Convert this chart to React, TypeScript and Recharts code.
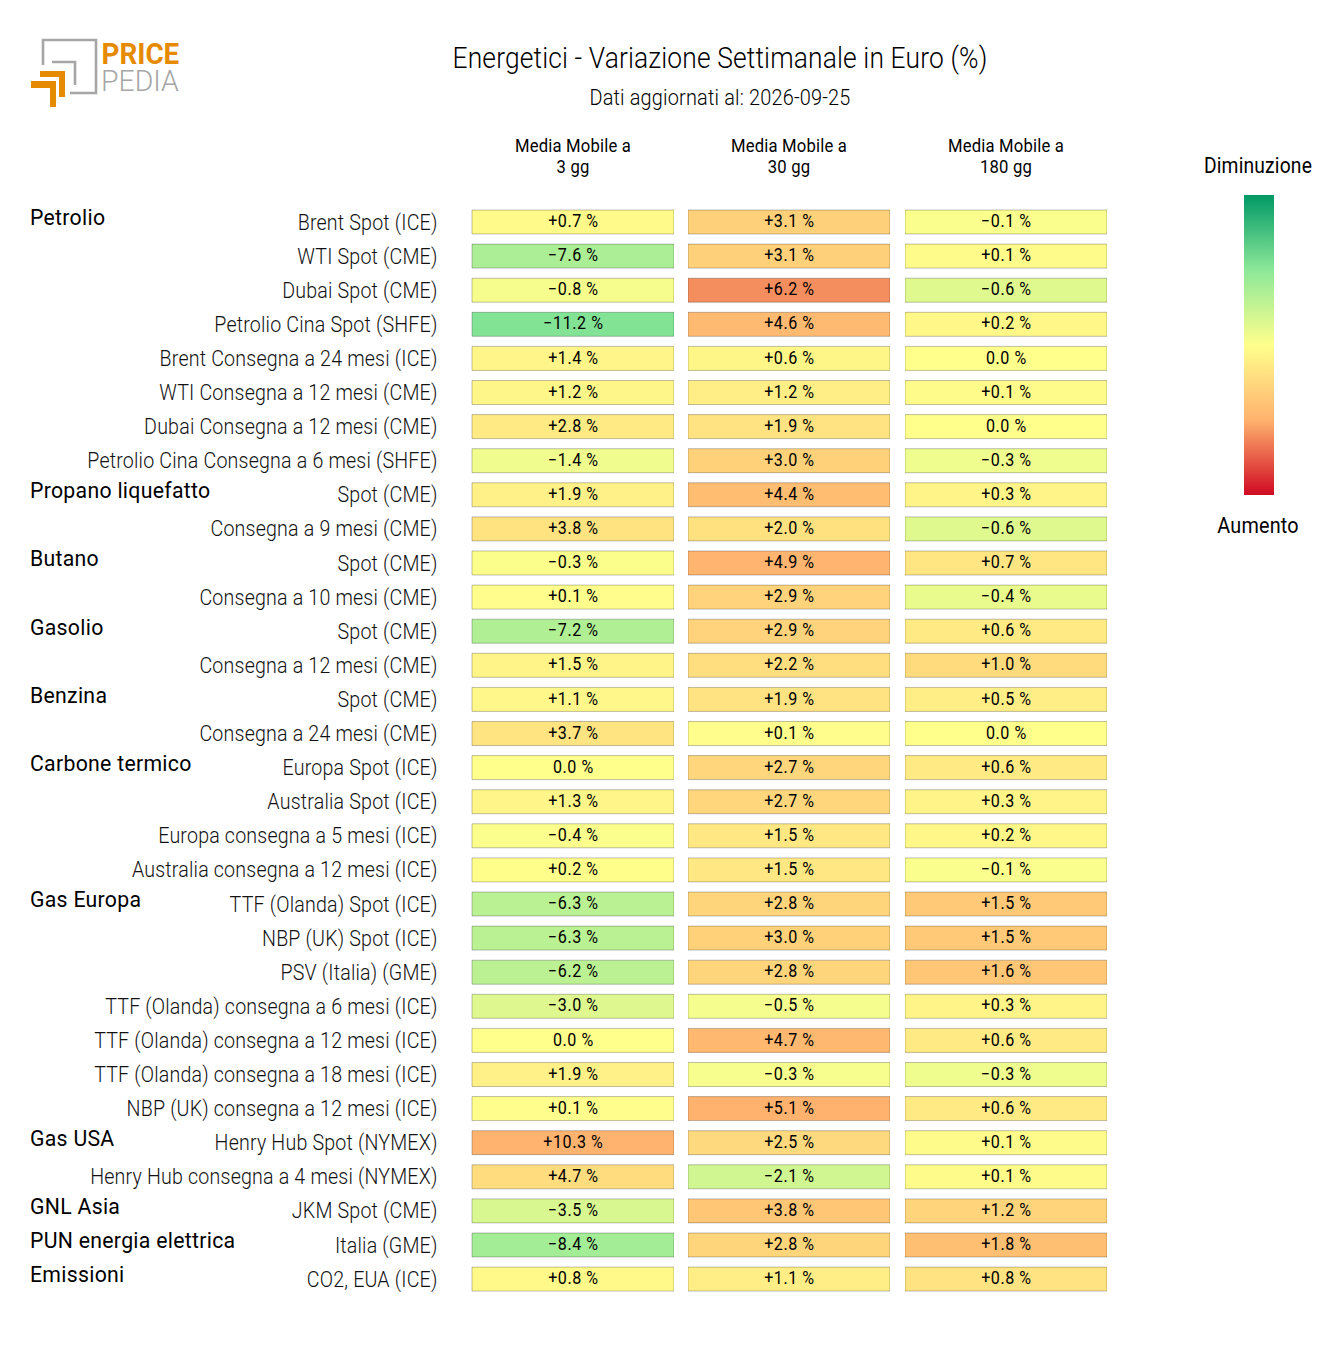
import React from 'react';
import { BarChart, Bar, Cell, XAxis, YAxis, LabelList } from 'recharts';

const instruments = [
  'Brent Spot (ICE)', 'WTI Spot (CME)', 'Dubai Spot (CME)', 'Petrolio Cina Spot (SHFE)',
  'Brent Consegna a 24 mesi (ICE)', 'WTI Consegna a 12 mesi (CME)', 'Dubai Consegna a 12 mesi (CME)',
  'Petrolio Cina Consegna a 6 mesi (SHFE)',
  'Spot (CME)', 'Consegna a 9 mesi (CME)',
  'Spot (CME)', 'Consegna a 10 mesi (CME)',
  'Spot (CME)', 'Consegna a 12 mesi (CME)',
  'Spot (CME)', 'Consegna a 24 mesi (CME)',
  'Europa Spot (ICE)', 'Australia Spot (ICE)', 'Europa consegna a 5 mesi (ICE)', 'Australia consegna a 12 mesi (ICE)',
  'TTF (Olanda) Spot (ICE)', 'NBP (UK) Spot (ICE)', 'PSV (Italia) (GME)', 'TTF (Olanda) consegna a 6 mesi (ICE)',
  'TTF (Olanda) consegna a 12 mesi (ICE)', 'TTF (Olanda) consegna a 18 mesi (ICE)', 'NBP (UK) consegna a 12 mesi (ICE)',
  'Henry Hub Spot (NYMEX)', 'Henry Hub consegna a 4 mesi (NYMEX)',
  'JKM Spot (CME)', 'Italia (GME)', 'CO2, EUA (ICE)',
];

const groups: Record<number, string> = {
  0: 'Petrolio', 8: 'Propano liquefatto', 10: 'Butano', 12: 'Gasolio', 14: 'Benzina',
  16: 'Carbone termico', 20: 'Gas Europa', 27: 'Gas USA', 29: 'GNL Asia',
  30: 'PUN energia elettrica', 31: 'Emissioni',
};

const media3 = [0.7, -7.6, -0.8, -11.2, 1.4, 1.2, 2.8, -1.4, 1.9, 3.8, -0.3, 0.1, -7.2, 1.5, 1.1, 3.7, 0.0, 1.3, -0.4, 0.2, -6.3, -6.3, -6.2, -3.0, 0.0, 1.9, 0.1, 10.3, 4.7, -3.5, -8.4, 0.8];
const media30 = [3.1, 3.1, 6.2, 4.6, 0.6, 1.2, 1.9, 3.0, 4.4, 2.0, 4.9, 2.9, 2.9, 2.2, 1.9, 0.1, 2.7, 2.7, 1.5, 1.5, 2.8, 3.0, 2.8, -0.5, 4.7, -0.3, 5.1, 2.5, -2.1, 3.8, 2.8, 1.1];
const media180 = [-0.1, 0.1, -0.6, 0.2, 0.0, 0.1, 0.0, -0.3, 0.3, -0.6, 0.7, -0.4, 0.6, 1.0, 0.5, 0.0, 0.6, 0.3, 0.2, -0.1, 1.5, 1.5, 1.6, 0.3, 0.6, -0.3, 0.6, 0.1, 0.1, 1.2, 1.8, 0.8];

const headers = [['Media Mobile a', '3 gg'], ['Media Mobile a', '30 gg'], ['Media Mobile a', '180 gg']];
const columnValues = [media3, media30, media180];
const columnScale = [21, 10.2, 4.3];
const columnLeft = [472, 688, 904.6];

const colorStops: [number, number[]][] = [
  [0, [0, 153, 102]],
  [0.25, [140, 232, 152]],
  [0.5, [255, 255, 140]],
  [0.75, [255, 178, 110]],
  [1, [208, 10, 34]],
];

const FONT = 'Roboto, sans-serif';
const CELL_W = 202;
const ROW_H = 34.1;
const PLOT_TOP = 204.5;
const LABEL_AXIS_W = 472;

const colorFor = (value: number, scale: number) => {
  const t = Math.max(0, Math.min(1, 0.5 + value / scale / 2));
  for (let i = 1; i < colorStops.length; i++) {
    const [t0, c0] = colorStops[i - 1];
    const [t1, c1] = colorStops[i];
    if (t <= t1) {
      const f = (t - t0) / (t1 - t0);
      return `rgb(${c0.map((c, k) => Math.round(c + (c1[k] - c) * f)).join(',')})`;
    }
  }
  return 'rgb(208,10,34)';
};

const formatValue = (v: number) => {
  if (v === 0) return '0.0 %';
  return `${v > 0 ? '+' : '\u2212'}${Math.abs(v).toFixed(1)} %`;
};

// the reference type is narrower than plain Roboto, so squeeze it horizontally
const RowTick = ({ y, payload, index }: any) => {
  const i = payload?.index ?? index;
  return (
    <g>
      {groups[i] && (
        <text transform={`translate(30 ${y - 4.6}) scale(0.945 1)`} dy="0.35em" textAnchor="start" fontFamily={FONT} fontSize={22.5} letterSpacing={0.3} fill="#000">
          {groups[i]}
        </text>
      )}
      <text transform={`translate(437.5 ${y}) scale(0.913 1)`} dy="0.35em" textAnchor="end" fontFamily={FONT} fontWeight={300} fontSize={21.5} letterSpacing={0.2} fill="#111">
        {payload.value}
      </text>
    </g>
  );
};

const CellLabel = ({ x, y, width, height, value }: any) => (
  <text
    transform={`translate(${x + width / 2 + 0.4} ${y + height / 2 - 1}) scale(0.92 1)`}
    dy="0.35em"
    textAnchor="middle"
    fontFamily={FONT}
    fontSize={17.5}
    letterSpacing={0.6}
    fill="#000"
  >
    {value}
  </text>
);

const HeatColumn = ({ col }: { col: number }) => {
  const rows = instruments.map((name, i) => ({ name, value: columnValues[col][i], cell: 1, label: formatValue(columnValues[col][i]) }));
  const withLabels = col === 0;
  return (
    <div style={{ position: 'absolute', left: withLabels ? 0 : columnLeft[col], top: PLOT_TOP }}>
      <BarChart
        width={withLabels ? LABEL_AXIS_W + CELL_W : CELL_W}
        height={ROW_H * instruments.length}
        data={rows}
        layout="vertical"
        margin={{ top: 0, right: 0, bottom: 0, left: 0 }}
        barSize={24}
      >
        <XAxis type="number" domain={[0, 1]} hide />
        <YAxis
          type="category"
          dataKey="name"
          width={withLabels ? LABEL_AXIS_W : 0}
          hide={!withLabels}
          axisLine={false}
          tickLine={false}
          interval={0}
          tick={<RowTick />}
        />
        <Bar dataKey="cell" isAnimationActive={false} stroke="#000" strokeOpacity={0.25} strokeWidth={1}>
          {rows.map((r, i) => (
            <Cell key={i} fill={colorFor(r.value, columnScale[col])} />
          ))}
          <LabelList dataKey="label" content={<CellLabel />} />
        </Bar>
      </BarChart>
    </div>
  );
};

const Logo = () => (
  <svg width={200} height={100} style={{ position: 'absolute', left: 0, top: 20 }} viewBox="0 20 200 100">
    <path d="M43 65V40H96V93H70" fill="none" stroke="#a6a6a6" strokeWidth={2.6} />
    <path d="M52 62H75V85" fill="none" stroke="#a6a6a6" strokeWidth={2.6} />
    <path d="M40 71H65V97H59V77H40Z" fill="#e68a00" />
    <path d="M31 81H56V107H50V88H31Z" fill="#e68a00" />
    <text transform="translate(101.5 64) scale(0.96 1)" fontFamily={FONT} fontWeight={700} fontSize={29} fill="#e68a00">PRICE</text>
    <text transform="translate(101 90.5) scale(0.98 1)" fontFamily={FONT} fontWeight={300} fontSize={29} fill="#a6a6a6">PEDIA</text>
  </svg>
);

const ColorLegend = () => (
  <svg width={30} height={300} style={{ position: 'absolute', left: 1244, top: 195 }}>
    <defs>
      <linearGradient id="scale" x1="0" y1="0" x2="0" y2="1">
        {colorStops.map(([t, c]) => (
          <stop key={t} offset={t} stopColor={`rgb(${c.join(',')})`} />
        ))}
      </linearGradient>
    </defs>
    <rect width={30} height={300} fill="url(#scale)" />
  </svg>
);

const centered = (x: number, y: number, size: number, squeeze: number, weight = 400): React.CSSProperties => ({
  position: 'absolute',
  left: x - 400,
  width: 800,
  top: y,
  textAlign: 'center',
  fontFamily: FONT,
  fontSize: size,
  fontWeight: weight,
  lineHeight: 1,
  color: '#000',
  whiteSpace: 'nowrap',
  transform: `translateY(-50%) scaleX(${squeeze})`,
});

export default function App() {
  return (
    <div style={{ position: 'absolute', left: 0, top: 0, width: 1320, height: 1357, background: '#fff', overflow: 'hidden' }}>
      <Logo />
      <div style={{ ...centered(720, 58, 30, 0.88, 300), letterSpacing: 0.15 }}>Energetici - Variazione Settimanale in Euro (%)</div>
      <div style={{ ...centered(720, 97.5, 21.5, 0.925, 300), letterSpacing: 0.2 }}>Dati aggiornati al: 2026-09-25</div>
      {headers.map((h, i) => (
        <React.Fragment key={i}>
          <div style={{ ...centered(columnLeft[i] + CELL_W / 2, 145.5, 18, 0.925), letterSpacing: 0.2 }}>{h[0]}</div>
          <div style={{ ...centered(columnLeft[i] + CELL_W / 2, 167, 18, 0.925), letterSpacing: 0.2 }}>{h[1]}</div>
        </React.Fragment>
      ))}
      {columnValues.map((_, i) => (
        <HeatColumn key={i} col={i} />
      ))}
      <div style={{ ...centered(1258, 166, 22, 0.875), letterSpacing: 0.2 }}>Diminuzione</div>
      <ColorLegend />
      <div style={{ ...centered(1258, 526, 22, 0.9), letterSpacing: 0.2 }}>Aumento</div>
    </div>
  );
}
